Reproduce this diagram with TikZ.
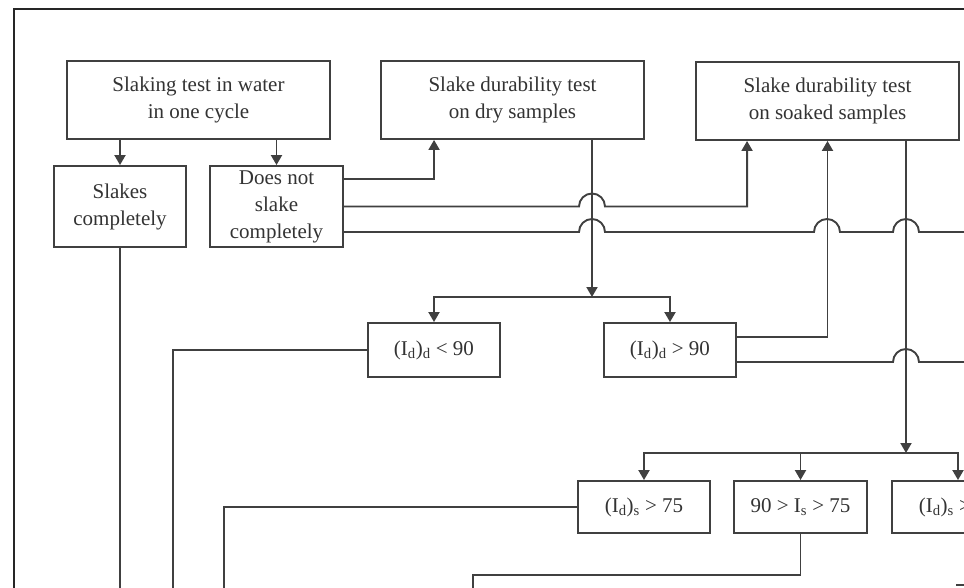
\documentclass[tikz,border=0pt]{standalone}
\usepackage{fontspec}
\setmainfont{Liberation Serif}
\usetikzlibrary{arrows.meta}
\begin{document}
\begin{tikzpicture}[x=1pt,y=-1pt,
  box/.style={draw=black!75, line width=1.9pt, inner sep=0pt, align=center, text=black!80, font=\fontsize{21}{27}\selectfont},
  ln/.style={draw=black!75, line width=1.9pt},
  arr/.style={ln, -{Triangle[width=11pt,length=10pt]}}]
\useasboundingbox (0,0) rectangle (964,587);
\clip (0,0) rectangle (964,587);
\fill[white] (0,0) rectangle (964,587);
\draw[line width=2.8pt, black!85] (970,9) -- (14,9) -- (14,600);

\node[box, minimum width=263pt, minimum height=78pt] (b1) at (198.5,100) {Slaking test in water\\in one cycle};
\node[box, minimum width=132pt, minimum height=81pt] (sc) at (120,206.5) {Slakes\\completely};
\node[box, minimum width=133pt, minimum height=81pt] (dns) at (276.5,206.5) {Does not\\slake\\completely};
\node[box, minimum width=263pt, minimum height=78pt] (dry) at (512.5,100) {Slake durability test\\on dry samples};
\node[box, minimum width=263pt, minimum height=78pt] (soak) at (827.5,101) {Slake durability test\\on soaked samples};
\node[box, minimum width=132pt, minimum height=54pt] (dlt) at (434,350) {(I\textsubscript{d})\textsubscript{d} < 90};
\node[box, minimum width=132pt, minimum height=54pt] (dgt) at (670,350) {(I\textsubscript{d})\textsubscript{d} > 90};
\node[box, minimum width=132pt, minimum height=52pt] (s1) at (644,507) {(I\textsubscript{d})\textsubscript{s} > 75};
\node[box, minimum width=133pt, minimum height=52pt] (s2) at (800.5,507) {90 > I\textsubscript{s} > 75};
\node[box, minimum width=132pt, minimum height=52pt] (s3) at (958,507) {(I\textsubscript{d})\textsubscript{s} > 90};

\coordinate (dx) at ([xshift=79.5pt]dry.south);
\coordinate (sx) at ([xshift=78.5pt]soak.south);
\coordinate (br1) at (592,297);
\coordinate (br2) at (906,453);
\coordinate (stub) at (956,585);

\draw[arr] (b1.south -| sc.north) -- (sc.north);
\draw[arr] (b1.south -| dns.north) -- (dns.north);
\draw[arr] ([yshift=27.5pt]dns.east) -| ([xshift=54pt]dry.south west);
\draw[arr] (dns.east) -- (579,206.5) arc[start angle=180,end angle=0,radius=13pt] -| ([xshift=52pt]soak.south west);
\draw[ln] ([yshift=-25.5pt]dns.east) -- (579,232) arc[start angle=180,end angle=0,radius=13pt]
   -- (814,232) arc[start angle=180,end angle=0,radius=13pt]
   -- (893,232) arc[start angle=180,end angle=0,radius=13pt] -- (970,232);

\draw[arr] (dx) -- (br1);
\draw[arr] (br1) -| (dlt.north);
\draw[arr] (br1) -| (dgt.north);

\draw[ln] (dlt.west) -| (173,600);
\draw[arr] ([yshift=13pt]dgt.east) -| (soak.south);
\draw[ln] ([yshift=-12pt]dgt.east) -- (893,362) arc[start angle=180,end angle=0,radius=13pt] -- (970,362);

\draw[arr] (sx) -- (br2);
\draw[arr] (br2) -| (s1.north);
\draw[arr] (br2) -| (s3.north);
\draw[arr] (s2.north |- br2) -- (s2.north);

\draw[ln] (s1.west) -| (224,600);
\draw[ln] (s2.south) |- (473,575) -- (473,600);
\draw[ln] (sc.south) -- (sc.south |- 0,600);
\draw[ln] (stub) -- (970,585);
\end{tikzpicture}
\end{document}
